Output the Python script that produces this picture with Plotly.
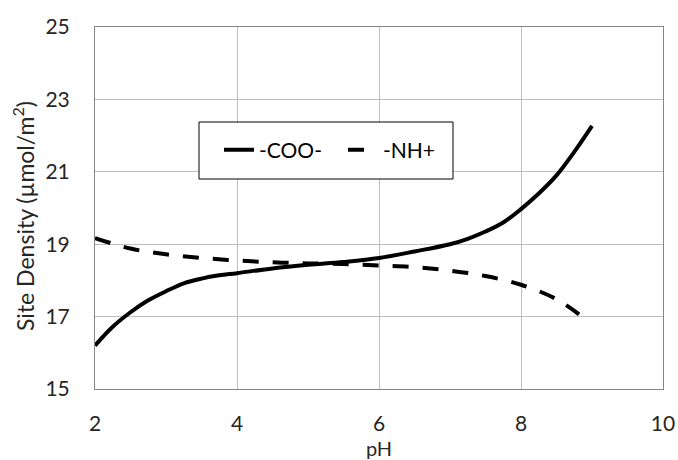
import plotly.graph_objects as go

ph_coo = [2.0, 2.25, 2.5, 2.75, 3.0, 3.25, 3.5, 3.75, 4.0, 4.5, 5.0, 5.5, 6.0, 6.5, 7.0, 7.25, 7.5, 7.75, 8.0, 8.25, 8.5, 8.75, 9.0]
coo = [16.2, 16.72, 17.12, 17.45, 17.7, 17.92, 18.05, 18.14, 18.2, 18.33, 18.43, 18.51, 18.62, 18.8, 19.0, 19.15, 19.35, 19.6, 19.97, 20.4, 20.9, 21.55, 22.27]

ph_nh = [2.0, 2.5, 3.0, 3.5, 4.0, 4.5, 5.0, 5.5, 6.0, 6.5, 7.0, 7.5, 8.0, 8.5, 8.86]
nh = [19.17, 18.88, 18.72, 18.62, 18.55, 18.5, 18.47, 18.45, 18.41, 18.37, 18.27, 18.12, 17.88, 17.48, 17.0]

x_ticks = [2, 4, 6, 8, 10]
y_ticks = [15, 17, 19, 21, 23, 25]

FONT = "Lato, 'Open Sans', sans-serif"
TXT = "#262626"

fig = go.Figure()
fig.add_trace(go.Scatter(x=ph_coo, y=coo, mode="lines", name="-COO-",
                         line=dict(color="black", width=4, shape="spline")))
fig.add_trace(go.Scatter(x=ph_nh, y=nh, mode="lines", name="-NH+",
                         line=dict(color="black", width=4, dash="16px,14px", shape="spline")))

# legend box
fig.add_shape(type="rect", xref="paper", yref="paper",
              x0=(199 - 95) / 568, x1=(453 - 95) / 568,
              y0=(389 - 179) / 362, y1=(389 - 122) / 362,
              line=dict(color="black", width=1), fillcolor="white", layer="above")

# y-axis title
fig.add_annotation(text="Site Density (µmol/m<sup>2</sup>)", xref="paper", yref="paper",
                   x=(24 - 95) / 568, y=(389 - 216) / 362, xanchor="center", yanchor="middle",
                   textangle=-90, showarrow=False,
                   font=dict(size=23, family=FONT, color=TXT))

fig.update_layout(
    width=678, height=460,
    margin=dict(l=95, r=15, t=27, b=71),
    paper_bgcolor="white", plot_bgcolor="white",
    font=dict(family=FONT, color=TXT),
    showlegend=True,
    legend=dict(orientation="h", x=(219 - 95) / 568, y=(389 - 150) / 362,
                xanchor="left", yanchor="middle",
                bgcolor="rgba(0,0,0,0)", borderwidth=0,
                font=dict(size=21, family=FONT, color="black"),
                entrywidth=79, entrywidthmode="pixels"),
    xaxis=dict(range=[2, 10], tickvals=x_ticks, ticks="", showgrid=True,
               gridcolor="#bfbfbf", gridwidth=1, showline=True, linecolor="#868686",
               linewidth=1, mirror=True, zeroline=False, automargin=False,
               ticklabelstandoff=16, ticklabeloverflow="allow",
               tickfont=dict(size=21, family=FONT, color=TXT),
               title=dict(text="pH", font=dict(size=20, family=FONT, color=TXT), standoff=8)),
    yaxis=dict(range=[15, 25], tickvals=y_ticks, ticks="", showgrid=True,
               gridcolor="#bfbfbf", gridwidth=1, showline=True, linecolor="#868686",
               linewidth=1, mirror=True, zeroline=False, automargin=False,
               ticklabelstandoff=20, ticklabeloverflow="allow",
               tickfont=dict(size=21, family=FONT, color=TXT)),
)

fig.write_html("out.html", post_script="document.body.style.margin='0';",
               config={"displayModeBar": False})
